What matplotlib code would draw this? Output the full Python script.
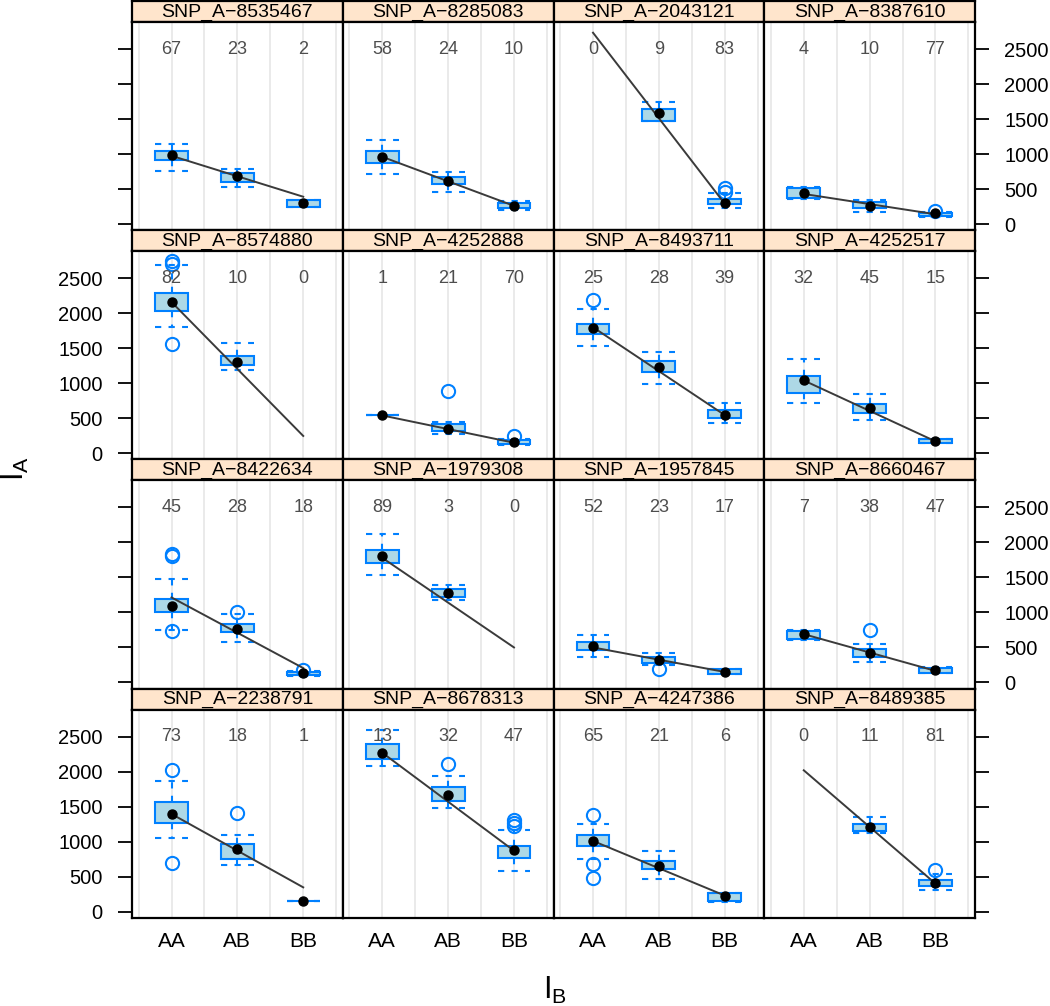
import numpy as np
import matplotlib.pyplot as plt

plt.rcParams['font.family'] = ['Liberation Sans', 'DejaVu Sans']
plt.rcParams['mathtext.fontset'] = 'custom'
plt.rcParams['mathtext.rm'] = 'Liberation Sans'

# ---- data ----
snps = ["SNP_A\u22128535467", "SNP_A\u22128285083", "SNP_A\u22122043121", "SNP_A\u22128387610",
        "SNP_A\u22128574880", "SNP_A\u22124252888", "SNP_A\u22128493711", "SNP_A\u22124252517",
        "SNP_A\u22128422634", "SNP_A\u22121979308", "SNP_A\u22121957845", "SNP_A\u22128660467",
        "SNP_A\u22122238791", "SNP_A\u22128678313", "SNP_A\u22124247386", "SNP_A\u22128489385"]
genotypes = ["AA", "AB", "BB"]
counts = [[67, 23, 2], [58, 24, 10], [0, 9, 83], [4, 10, 77],
          [82, 10, 0], [1, 21, 70], [25, 28, 39], [32, 45, 15],
          [45, 28, 18], [89, 3, 0], [52, 23, 17], [7, 38, 47],
          [73, 18, 1], [13, 32, 47], [65, 21, 6], [0, 11, 81]]

# box statistics per panel, per genotype (None = genotype not observed)
whisk_lo = [[757, 529, 248], [714, 462, 195], [None, 1470, 224], [360, 171, 105],
            [1800, 1195, None], [540, 271, 120], [1538, 995, 438], [714, 476, 143],
            [753, 577, 96], [1534, 1181, None], [362, 250, 119], [600, 286, 133],
            [1052, 667, 152], [2086, 1476, 586], [748, 467, 140], [None, 1129, 310]]
q1 = [[914, 605, 248], [867, 576, 224], [None, 1476, 286], [370, 224, 115],
      [2033, 1257, None], [540, 319, 135], [1710, 1157, 500], [867, 581, 150],
      [1006, 714, 110], [1700, 1224, None], [467, 281, 125], [615, 362, 140],
      [1267, 757, 152], [2186, 1586, 767], [933, 605, 145], [None, 1157, 362]]
med = [[981, 690, 295], [957, 614, 262], [None, 1590, 305], [438, 262, 152],
       [2167, 1310, None], [540, 352, 167], [1795, 1233, 552], [1043, 643, 181],
       [1091, 767, 133], [1800, 1281, None], [514, 319, 152], [695, 419, 171],
       [1395, 895, 152], [2267, 1671, 876], [1014, 648, 229], [None, 1210, 405]]
q3 = [[1043, 733, 338], [1038, 667, 295], [None, 1638, 352], [520, 310, 160],
      [2296, 1390, None], [540, 424, 195], [1853, 1319, 619], [1100, 705, 205],
      [1191, 829, 150], [1886, 1339, None], [571, 362, 190], [735, 481, 210],
      [1567, 967, 152], [2395, 1786, 933], [1090, 719, 265], [None, 1248, 452]]
whisk_hi = [[1143, 786, 338], [1205, 743, 329], [None, 1738, 438], [530, 343, 171],
            [2686, 1581, None], [540, 447, 205], [2057, 1443, 714], [1348, 843, 210],
            [1471, 971, 160], [2120, 1386, None], [671, 419, 195], [745, 548, 219],
            [1871, 1090, 152], [2600, 1933, 1171], [1257, 862, 270], [None, 1348, 538]]
outliers = [[[], [], []], [[], [], []], [[], [], [520, 460]], [[], [], [190]],
            [[2740, 2700, 1567], [], []], [[], [896], [247]], [[2195], [], []], [[], [], []],
            [[1830, 1800, 730], [1006], [181]], [[], [], []], [[], [191], []], [[], [743], []],
            [[2024, 700], [1405], []], [[], [2110], [1310, 1260, 1220]],
            [[1381, 681, 481], [], []], [[], [], [595]]]
# fitted line values at AA and BB
fit_aa = [975, 960, 2733, 430, 2160, 540, 1800, 1040, 1214, 1780, 500, 690, 1395, 2270, 1010, 2019]
fit_bb = [390, 260, 290, 140, 247, 150, 545, 170, 205, 500, 150, 165, 347, 870, 230, 400]

# ---- layout ----
W, H = 1050, 1006
fig = plt.figure(figsize=(W / 100, H / 100), dpi=100)

def px_axes(x0, y0, x1, y1):
    return fig.add_axes([x0 / W, 1 - y1 / H, (x1 - x0) / W, (y1 - y0) / H])

col_edges = np.linspace(132, 975, 5)
row_pitch = 229.2
strip_h = 21

blue = '#0080ff'
dash = (0, (3, 3.5))

for k in range(16):
    r, c = divmod(k, 4)
    x0, x1 = col_edges[c], col_edges[c + 1]
    top = 1 + r * row_pitch
    # strip
    sax = px_axes(x0, top, x1, top + strip_h)
    sax.set_facecolor('#ffe5cc')
    sax.set_xticks([])
    sax.set_yticks([])
    for sp in sax.spines.values():
        sp.set_linewidth(1.6)
    sax.text(0.5, 0.47, snps[k], ha='center', va='center', fontsize=14,
             transform=sax.transAxes)

    ax = px_axes(x0, top + strip_h, x1, top + row_pitch)
    ax.set_xlim(0.4, 3.6)
    ax.set_ylim(-88, 2886)
    for xv in np.arange(0.5, 3.6, 0.5):
        ax.axvline(xv, color='#e6e6e6', lw=1.2, zorder=0)

    stats, pos = [], []
    for g in range(3):
        if q1[k][g] is None:
            continue
        stats.append(dict(med=med[k][g], q1=q1[k][g], q3=q3[k][g],
                          whislo=whisk_lo[k][g], whishi=whisk_hi[k][g],
                          fliers=outliers[k][g]))
        pos.append(g + 1)
    ax.bxp(stats, positions=pos, widths=0.5, capwidths=0.5, patch_artist=True,
           manage_ticks=False,
           boxprops=dict(facecolor='#add8e6', edgecolor=blue, linewidth=1.5),
           whiskerprops=dict(color=blue, linestyle=dash, linewidth=1.5),
           capprops=dict(color=blue, linestyle=dash, linewidth=1.5),
           medianprops=dict(linewidth=0),
           flierprops=dict(marker='o', markerfacecolor='none', markeredgecolor=blue,
                           markersize=9.5, markeredgewidth=1.5))
    ax.plot([1, 3], [fit_aa[k], fit_bb[k]], color='#3a3a3a', lw=1.4, zorder=4)
    ax.plot(pos, [med[k][g - 1] for g in pos], 'o', color='black', ms=6.5, zorder=5)

    for g, n in enumerate(counts[k]):
        ax.text(g + 1, 2500, str(n), ha='center', va='center', fontsize=13, color='#4d4d4d')

    for sp in ax.spines.values():
        sp.set_linewidth(1.6)
    ax.set_yticks([0, 500, 1000, 1500, 2000, 2500])
    ax.tick_params(axis='y', direction='out', length=10, width=1.3, labelsize=14.5, pad=11,
                   left=(c == 0), right=(c == 3),
                   labelleft=(c == 0 and r % 2 == 1), labelright=(c == 3 and r % 2 == 0))
    ax.set_xticks([1, 2, 3])
    ax.set_xticklabels(genotypes)
    ax.tick_params(axis='x', length=0, labelsize=15, pad=10, labelbottom=(r == 3))

fig.text(15 / W, 1 - 469 / H, r'$\mathrm{I}_\mathrm{A}$', rotation=90, fontsize=22,
         ha='center', va='center')
fig.text(555 / W, 1 - 990 / H, r'$\mathrm{I}_\mathrm{B}$', fontsize=22,
         ha='center', va='center')

fig.savefig('out.png', dpi=100)
